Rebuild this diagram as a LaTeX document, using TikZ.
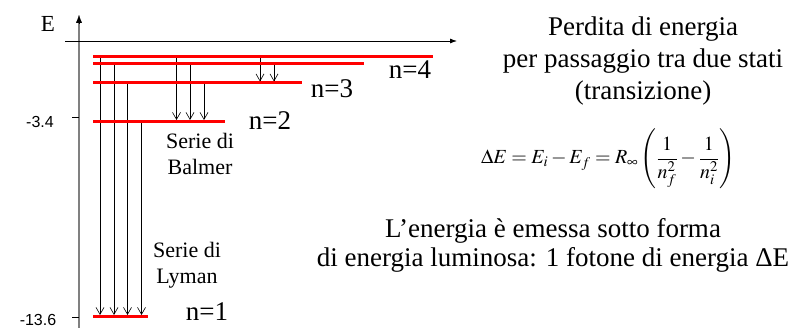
\documentclass[tikz,border=0pt]{standalone}
\usepackage{amsmath}
\usepackage{mathptmx}
\usepackage{fontspec}
\setmainfont{Liberation Serif}
\newfontfamily\ticksans{Liberation Sans}
\usetikzlibrary{arrows.meta}

\begin{document}
\begin{tikzpicture}[x=1pt, y=-1pt,
  level/.style={red, line width=3pt},
  trans/.style={-{Straight Barb[length=7pt,width=8pt]}, line width=0.6pt, shorten >=1.5pt},
  nlabel/.style={font=\fontsize{27}{30}\selectfont, inner sep=0pt},
  serie/.style={font=\fontsize{22}{26.5}\selectfont, align=center},
  ticklabel/.style={font=\ticksans\fontsize{16}{18}\selectfont},
  bigtext/.style={font=\fontsize{27}{32}\selectfont, align=center}]
  \useasboundingbox (0,0) rectangle (803,328);

  % livelli energetici
  \coordinate (Linf) at (93,57);
  \coordinate (L4) at (93,64);
  \coordinate (L3) at (93,83);
  \coordinate (L2) at (93,121.5);
  \coordinate (L1) at (93,316.5);

  % assi
  \draw[gray, line width=1.5pt] (79,328) -- (79,22);
  \draw[-{Latex[length=8pt,width=6pt]}, line width=0.1pt] (79,23) -- (79,15);
  \draw[line width=0.8pt, -{Latex[length=7pt,width=5pt]}] (65,41) -- (457,41);
  \node[font=\fontsize{23}{27}\selectfont] (Elab) at (48,24) {E};
  \draw[line width=0.6pt] (72,117.3) -- (79,117.3);
  \draw[line width=0.6pt] (72,317.7) -- (79,317.7);
  \node[ticklabel] (t34) at (40,121.5) {-3.4};
  \node[ticklabel] (t136) at (38,320) {-13.6};

  % transizioni: Lyman, Balmer, Paschen
  \foreach \x/\from in {100/Linf, 114/L4, 127.5/L3, 141.5/L2}
    \draw[trans] (\x,0 |- \from) -- (\x,0 |- L1);
  \foreach \x/\from in {176.5/Linf, 190/L4, 204/L3}
    \draw[trans] (\x,0 |- \from) -- (\x,0 |- L2);
  \foreach \x/\from in {260/Linf, 274/L4}
    \draw[trans] (\x,0 |- \from) -- (\x,0 |- L3);

  \draw[level] (Linf) -- ++(340,0);
  \draw[level] (L4) -- ++(271,0);
  \draw[level] (L3) -- ++(209,0);
  \draw[level] (L2) -- ++(132,0);
  \draw[level] (L1) -- ++(55,0);

  \node[nlabel] (n4) at (410,70) {n=4};
  \node[nlabel] (n3) at (332,89) {n=3};
  \node[nlabel] (n2) at (270,121) {n=2};
  \node[nlabel] (n1) at (207,312) {n=1};

  \node[serie] (balmer) at (200,154) {Serie di\\Balmer};
  \node[serie] (lyman) at (187,265) {Serie di\\Lyman};

  % testo a destra
  \node[bigtext] (perdita) at (643,61) {Perdita di energia\\per passaggio tra due stati\\(transizione)};
  \node[font=\fontsize{20}{24}\selectfont] (formula) at (608,159)
    {$\Delta E = E_i - E_f = R_\infty\left(\dfrac{1}{n_f^2}-\dfrac{1}{n_i^2}\right)$};
  \node[bigtext, font=\fontsize{27}{29.5}\selectfont] (emessa) at (553,245.5)
    {L’energia è emessa sotto forma\\di energia luminosa: 1 fotone di energia ΔE};
\end{tikzpicture}
\end{document}
